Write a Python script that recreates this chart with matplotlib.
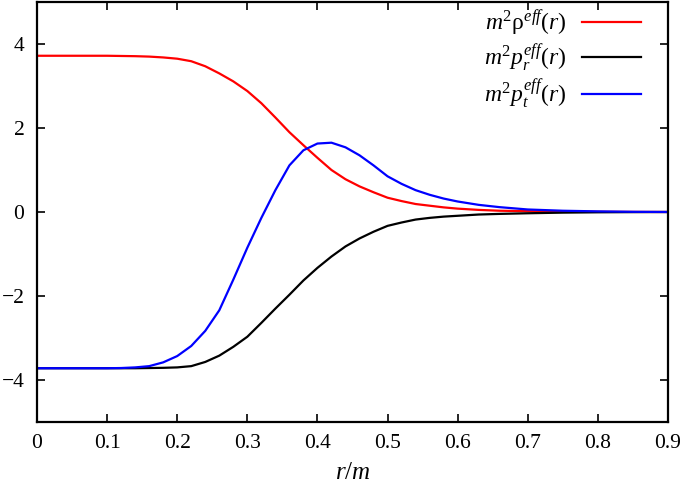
import matplotlib
matplotlib.use("Agg")
import matplotlib.pyplot as plt
from matplotlib.ticker import FixedLocator, FuncFormatter

r = [0, 0.05, 0.1, 0.12, 0.14, 0.16, 0.18, 0.2, 0.22, 0.24, 0.26, 0.28, 0.30, 0.32,
     0.34, 0.36, 0.38, 0.40, 0.42, 0.44, 0.46, 0.48, 0.50, 0.52, 0.54, 0.56, 0.58,
     0.60, 0.63, 0.66, 0.70, 0.75, 0.8, 0.85, 0.9]

rho_eff = [3.72, 3.72, 3.72, 3.715, 3.71, 3.70, 3.68, 3.65, 3.59, 3.47, 3.30, 3.11,
           2.88, 2.59, 2.25, 1.90, 1.59, 1.29, 1.00, 0.78, 0.61, 0.47, 0.34, 0.26,
           0.19, 0.15, 0.11, 0.08, 0.05, 0.03, 0.02, 0.01, 0.005, 0.002, 0.0]

pr_eff = [-3.72, -3.72, -3.72, -3.72, -3.72, -3.715, -3.71, -3.70, -3.67, -3.57,
          -3.42, -3.21, -2.97, -2.64, -2.30, -1.97, -1.63, -1.33, -1.06, -0.82, -0.63,
          -0.47, -0.33, -0.25, -0.18, -0.14, -0.11, -0.09, -0.06, -0.045, -0.03,
          -0.015, -0.007, -0.003, 0.0]

pt_eff = [-3.72, -3.72, -3.72, -3.715, -3.70, -3.67, -3.58, -3.43, -3.19, -2.83,
          -2.34, -1.61, -0.85, -0.14, 0.52, 1.11, 1.47, 1.63, 1.65, 1.54, 1.35, 1.11,
          0.85, 0.67, 0.52, 0.41, 0.32, 0.25, 0.17, 0.115, 0.06, 0.03, 0.015, 0.005,
          0.0]

labels = [r'$m^2\mathrm{\rho}^{eff}(r)$', r'$m^2p_r^{eff}(r)$', r'$m^2p_t^{eff}(r)$']
colors = ['#ff0000', '#000000', '#0000ff']

xticks = [0, 0.1, 0.2, 0.3, 0.4, 0.5, 0.6, 0.7, 0.8, 0.9]
yticks = [-4, -2, 0, 2, 4]

plt.rcParams['font.family'] = ['Liberation Serif', 'DejaVu Serif']
plt.rcParams['mathtext.fontset'] = 'custom'
plt.rcParams['mathtext.rm'] = 'Liberation Serif'
plt.rcParams['mathtext.it'] = 'Liberation Serif:italic'
plt.rcParams['mathtext.bf'] = 'Liberation Serif:bold'

fig = plt.figure(figsize=(6.85, 4.96), dpi=100)
ax = fig.add_axes([37/685, 74/496, 631/685, 420/496])

for y, lab, c in zip([rho_eff, pr_eff, pt_eff], labels, colors):
    ax.plot(r, y, color=c, lw=1.6, label=lab, solid_joinstyle='round')

ax.set_xlim(0, 0.9)
ax.set_ylim(-5, 5)
ax.xaxis.set_major_locator(FixedLocator(xticks))
ax.yaxis.set_major_locator(FixedLocator(yticks))
ax.xaxis.set_major_formatter(FuncFormatter(lambda v, p: ('%g' % v)))
ax.yaxis.set_major_formatter(FuncFormatter(lambda v, p: ('%d' % v).replace('-', '\u2212')))
ax.tick_params(direction='in', length=6, width=1.2, top=True, right=True,
               labelsize=15.5, pad=9)
for s in ax.spines.values():
    s.set_linewidth(1.6)

ax.set_xlabel(r'$r/m$', fontsize=18, labelpad=6)

leg = ax.legend(loc='upper right', bbox_to_anchor=((641 - 37) / 631, 0.985),
                frameon=False, markerfirst=False, fontsize=17,
                handlelength=2.5, labelspacing=0.2, borderaxespad=0.0,
                borderpad=0.0, handletextpad=0.65)
for t in leg.get_texts():
    t.set_ha('right')

fig.savefig('out.png', dpi=100)
